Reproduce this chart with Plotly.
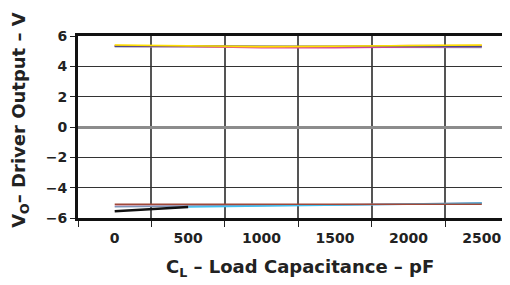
import plotly.graph_objects as go

# ---- data ----
cap_pf = [0, 500, 1000, 1500, 2000, 2500]

high_yellow = [5.40, 5.36, 5.30, 5.32, 5.38, 5.40]
high_orange = [5.37, 5.30, 5.27, 5.30, 5.38, 5.37]
high_navy = [5.33, 5.36, 5.32, 5.30, 5.30, 5.30]
high_magenta = [5.32, 5.30, 5.22, 5.22, 5.28, 5.30]
high_gray = [5.30, 5.30, 5.28, 5.27, 5.27, 5.26]

low_red = [-5.10, -5.10, -5.12, -5.13, -5.10, -5.10]
low_pink = [-5.20, -5.20, -5.18, -5.15, -5.10, -5.05]
low_blue = [-5.25, -5.22, -5.18, -5.15, -5.08, -5.00]
low_cyan = [None, -5.27, -5.20, -5.15, -5.09, -5.03]
low_black = [-5.55, -5.27, None, None, None, None]

y_ticks = [-6, -4, -2, 0, 2, 4, 6]
x_ticks = [0, 500, 1000, 1500, 2000, 2500]

x_title = "C<sub>L</sub> – Load Capacitance – pF"
y_title = "V<sub>O</sub>– Driver Output – V"

series = [
    (high_gray, "#9a9ab8", 2),
    (high_magenta, "#e040a0", 1.5),
    (high_orange, "#f4a030", 1.5),
    (high_navy, "#4a4a88", 1.5),
    (high_yellow, "#ffe000", 1.5),
    (low_pink, "#d8a8b8", 1.5),
    (low_blue, "#7f95b8", 1.5),
    (low_cyan, "#40c0f0", 1.5),
    (low_red, "#a04838", 1.5),
    (low_black, "#111111", 2.5),
]

fig = go.Figure()
for vals, col, w in series:
    fig.add_trace(go.Scatter(x=cap_pf, y=vals, mode="lines",
                             line=dict(color=col, width=w),
                             showlegend=False, hoverinfo="skip"))

font_main = dict(family="DejaVu Sans", weight="bold", color="#222222")

# the page body adds an 8px offset, so the figure is 8px smaller than the window
fig.update_layout(
    width=502, height=277,
    margin=dict(l=70, r=0, t=28, b=67),
    paper_bgcolor="white", plot_bgcolor="white",
    font=font_main,
    showlegend=False,
    annotations=[
        dict(text=x_title, xref="paper", yref="paper", x=0.514, y=-0.275,
             xanchor="center", yanchor="middle", showarrow=False,
             font=dict(size=18, **font_main)),
        dict(text=y_title, xref="paper", yref="paper", x=-0.134, y=0.54,
             xanchor="center", yanchor="middle", showarrow=False,
             textangle=-90, font=dict(size=18, **font_main)),
    ],
)
fig.update_xaxes(
    range=[-250, 2692], automargin=False,
    tickmode="array", tickvals=x_ticks, ticktext=[str(v) for v in x_ticks],
    tickfont=dict(size=14, **font_main),
    ticks="outside", ticklen=5, tickcolor="rgba(0,0,0,0)",
    showgrid=False, zeroline=False,
    showline=True, linecolor="#111111", linewidth=2.5, mirror=True,
    minor=dict(tick0=-250, dtick=500, showgrid=True, gridcolor="#555555",
               gridwidth=1.5, ticks="outside", ticklen=6, tickcolor="#222222",
               tickwidth=1),
)
fig.update_yaxes(
    range=[-6, 6], automargin=False,
    tickmode="array", tickvals=y_ticks,
    ticktext=[str(v).replace("-", "−") for v in y_ticks],
    tickfont=dict(size=14, **font_main),
    ticks="outside", ticklen=5, tickcolor="#222222", tickwidth=1,
    showgrid=True, gridcolor="#333333", gridwidth=1,
    zeroline=True, zerolinecolor="#8c8c8c", zerolinewidth=2.5,
    showline=True, linecolor="#111111", linewidth=3,
)

fig.write_html("out.html")
